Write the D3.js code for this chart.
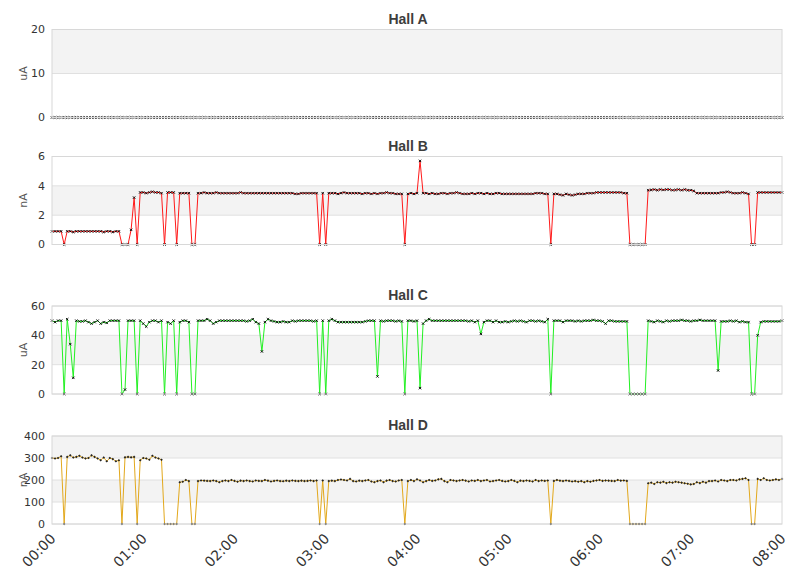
<!DOCTYPE html>
<html>
<head>
<meta charset="utf-8">
<script src="https://cdn.jsdelivr.net/npm/d3@7"></script>
<style>
body { margin: 0; background: #fff; }
text { font-family: "DejaVu Sans", Verdana, sans-serif; }
text.title { font-family: "Liberation Sans", Arial, sans-serif; }
</style>
</head>
<body>
<svg id="chart" width="811" height="578"></svg>
<script>
// one sample every 2 minutes, 00:00 .. 08:00
sample_step = 2;

hall_a = [
  0,0,0,0,0,0,0,0,0,0,0,0,0,0,0,0,0,0,0,0,
  0,0,0,0,0,0,0,0,0,0,0,0,0,0,0,0,0,0,0,0,
  0,0,0,0,0,0,0,0,0,0,0,0,0,0,0,0,0,0,0,0,
  0,0,0,0,0,0,0,0,0,0,0,0,0,0,0,0,0,0,0,0,
  0,0,0,0,0,0,0,0,0,0,0,0,0,0,0,0,0,0,0,0,
  0,0,0,0,0,0,0,0,0,0,0,0,0,0,0,0,0,0,0,0,
  0,0,0,0,0,0,0,0,0,0,0,0,0,0,0,0,0,0,0,0,
  0,0,0,0,0,0,0,0,0,0,0,0,0,0,0,0,0,0,0,0,
  0,0,0,0,0,0,0,0,0,0,0,0,0,0,0,0,0,0,0,0,
  0,0,0,0,0,0,0,0,0,0,0,0,0,0,0,0,0,0,0,0,
  0,0,0,0,0,0,0,0,0,0,0,0,0,0,0,0,0,0,0,0,
  0,0,0,0,0,0,0,0,0,0,0,0,0,0,0,0,0,0,0,0,
  0
];

hall_b = [
  0.9,0.9,0.9,0.9,
  0,
  0.9,0.9,0.85,0.9,0.9,0.9,0.9,0.9,0.9,0.9,0.9,0.9,0.85,0.9,0.9,0.85,0.9,0.9,
  0,0,0,
  1.0,3.2,
  0,
  3.55,3.55,3.5,3.55,3.6,3.55,3.55,3.5,
  0,
  3.55,3.55,3.55,
  0,
  3.5,3.5,3.5,3.5,
  0,0,
  3.5,3.5,3.55,3.5,3.5,3.5,3.55,3.5,3.5,3.5,
  3.5,3.5,3.5,3.5,3.55,3.5,3.5,3.5,3.5,3.5,
  3.5,3.5,3.5,3.5,3.5,3.5,3.5,3.5,3.5,3.5,
  3.5,3.5,3.45,3.45,3.5,3.5,3.5,3.5,3.5,3.5,
  0,3.5,0,
  3.5,3.5,3.5,3.45,3.5,3.55,3.5,3.5,3.5,3.5,
  3.5,3.45,3.5,3.5,3.45,3.5,3.45,3.5,3.5,3.55,
  3.5,3.5,3.45,3.45,3.45,
  0,
  3.45,3.5,3.45,3.5,
  5.7,
  3.5,3.5,3.45,3.5,3.45,3.45,3.5,3.5,3.45,3.5,
  3.5,3.55,3.5,3.45,3.45,3.45,3.5,3.45,3.5,3.5,
  3.45,3.5,3.45,3.45,3.5,3.5,3.45,3.45,3.45,3.45,
  3.45,3.45,3.45,3.45,3.45,3.45,3.45,3.5,3.5,3.5,
  3.45,3.45,
  0,
  3.45,3.45,3.4,3.35,3.45,3.4,3.35,3.4,3.45,3.45,
  3.45,3.5,3.5,3.5,3.55,3.55,3.55,3.55,3.55,3.55,
  3.55,3.55,3.55,3.5,3.5,
  0,0,0,0,0,0,
  3.7,3.72,3.75,3.7,3.75,3.72,3.75,3.75,3.7,3.72,
  3.75,3.7,3.75,3.7,3.7,3.65,
  3.5,3.5,3.5,3.5,
  3.5,3.5,3.5,3.5,3.55,3.55,3.6,3.55,3.5,3.5,
  3.5,3.55,3.5,3.45,
  0,0,
  3.55,3.55,3.55,3.55,3.55,3.55,3.55,3.55,3.55
];

hall_c = [
  50,49,50,50,
  0,
  51,34,11,50,
  49.5,49.5,50,49,48,49,50,48,49,48.5,50,50,50,50,
  0,3,50,50,50,
  0,
  50,48,46,49,50,50,49,50,
  0,
  49,48,50,
  0,
  49,50,50,49,
  0,0,
  50,50,50,51,50,48,49,50,50,50,
  50,50,50,50,50,50,49.5,50,51,49,
  48,
  29,
  49,51,50,49.5,49,49,49.5,49,49,50,
  49.5,50,50,50,50,50,49.5,50,
  0,50,0,
  50,51,50,49,49,49,49,49,49,49,
  49,49,49.5,50,50,50,
  12,
  50,49.5,50,50,50,49.5,50,49.5,
  0,
  50,50,49.5,50,
  4,
  48,50,51,50,50,50,50,50,50,50,
  50,50,50,50,50,49.5,50,49,50,
  41,
  49,50,50,49,50,49,49,49.5,49,49.5,
  50,49.5,50,49.5,49,50,50,49.5,50,49.5,
  49,51,
  0,
  50,50,50,49,50,50,50,49.5,50,49.5,
  50,50,50,50.5,50,50,49.5,48,50,50,
  49.5,49.5,49.5,49.5,49.5,
  0,0,0,0,0,0,
  50,49.5,49,50,49.5,49,50,49.5,50,50,
  50,50.5,50,50,49.5,50,50,50.5,50,50,
  50,50,50,
  16,
  49.5,49.5,49.5,50,49.5,50,49,49.5,49,49,
  0,0,
  40,
  49,49.5,49.5,49.5,49.5,49.5,49.5,50
];

hall_d = [
  300,298,300,308,
  0,
  305,312,302,305,310,302,298,300,312,305,
  298,290,302,285,300,295,285,290,
  0,
  303,305,303,305,
  0,
  290,300,298,292,310,302,298,292,
  0,0,0,0,0,
  190,192,200,195,
  0,0,
  195,198,197,196,195,198,195,190,195,198,
  195,200,196,192,197,195,198,195,193,198,
  196,195,200,197,193,196,198,195,194,197,
  195,198,196,195,197,195,196,198,195,198,
  0,198,0,
  195,197,195,200,202,200,198,205,195,193,
  197,195,198,200,193,190,195,198,190,197,
  200,195,193,198,200,
  0,
  195,200,195,203,198,190,195,200,196,198,
  203,205,195,190,200,198,195,198,200,197,
  193,198,196,200,195,198,200,193,195,198,
  200,196,193,195,200,196,190,197,195,198,
  196,193,200,195,198,196,198,
  0,
  196,200,197,195,198,196,193,195,192,195,
  190,195,192,196,198,200,196,198,197,196,
  195,200,197,198,196,
  0,0,0,0,0,0,
  185,188,182,190,188,192,186,190,188,192,
  190,188,185,183,180,182,190,186,192,188,
  195,195,198,193,200,198,195,200,200,198,
  203,205,208,200,
  0,0,
  205,200,208,200,198,200,203,200,205
];

titles = ['Hall A', 'Hall B', 'Hall C', 'Hall D'];
units = ['uA', 'nA', 'uA', 'nA'];
y_ticks = [[0, 10, 20], [0, 2, 4, 6], [0, 20, 40, 60], [0, 100, 200, 300, 400]];
x_ticks = [0, 60, 120, 180, 240, 300, 360, 420, 480];
x_labels = ['00:00', '01:00', '02:00', '03:00', '04:00', '05:00', '06:00', '07:00', '08:00'];

series = [hall_a, hall_b, hall_c, hall_d];
colors = ['#333333', '#ff1a1a', '#22f022', '#e2a81c'];

// layout
left = 52;
right = 782;
plot_tops = [29.5, 156.5, 306, 436];
plot_h = 88;

svg = d3.select('#chart');

x = d3.scaleLinear().domain([0, 480]).range([left, right]);

series.forEach(function(values, p){
    var pt = plot_tops[p];
    var ticks = y_ticks[p];
    var y = d3.scaleLinear().domain([0, ticks[ticks.length - 1]]).range([pt + plot_h, pt]);
    var g = svg.append('g');

    // alternating bands
    for(var k = 0; k < ticks.length - 1; k++){
        if(k % 2 === 1){
            g.append('rect')
                .attr('x', left)
                .attr('y', y(ticks[k + 1]))
                .attr('width', right - left)
                .attr('height', y(ticks[k]) - y(ticks[k + 1]))
                .attr('fill', '#f3f3f3');
        }
    }

    ticks.forEach(function(t){
        g.append('line')
            .attr('x1', left).attr('x2', right)
            .attr('y1', y(t)).attr('y2', y(t))
            .attr('stroke', '#e0e0e0');
        g.append('text')
            .attr('x', left - 7)
            .attr('y', y(t))
            .attr('dy', '0.35em')
            .attr('text-anchor', 'end')
            .attr('font-size', 11)
            .attr('fill', '#333')
            .text(t);
    });

    var line = d3.line()
        .x((d, i) => x(i * sample_step))
        .y(d => y(d));

    g.append('path')
        .datum(values)
        .attr('d', line)
        .attr('fill', 'none')
        .attr('stroke', colors[p])
        .attr('stroke-width', 1);

    if(p === 3){
        g.selectAll('path.pt')
            .data(values)
            .enter().append('path')
            .attr('class', 'pt')
            .attr('transform', (d, i) => `translate(${x(i * sample_step)},${y(d)})`)
            .attr('d', 'M0,-1.3L1.3,0L0,1.3L-1.3,0Z')
            .attr('fill', '#222');
    } else {
        g.selectAll('path.pt')
            .data(values)
            .enter().append('path')
            .attr('class', 'pt')
            .attr('transform', (d, i) => `translate(${x(i * sample_step)},${y(d)})`)
            .attr('d', 'M-1.2,-1.2L1.2,1.2M-1.2,1.2L1.2,-1.2')
            .attr('stroke', '#000')
            .attr('stroke-width', 0.9);
    }

    g.append('rect')
        .attr('x', left)
        .attr('y', pt)
        .attr('width', right - left)
        .attr('height', plot_h)
        .attr('fill', 'none')
        .attr('stroke', '#d8d8d8');

    svg.append('text')
        .attr('class', 'title')
        .attr('x', 408)
        .attr('y', pt - 6)
        .attr('text-anchor', 'middle')
        .attr('font-size', 14)
        .attr('font-weight', 'bold')
        .attr('fill', '#3d3d3d')
        .text(titles[p]);

    svg.append('text')
        .attr('transform', `translate(27,${pt + plot_h / 2}) rotate(-90)`)
        .attr('text-anchor', 'middle')
        .attr('font-size', 11)
        .attr('fill', '#555')
        .text(units[p]);
});

// time labels under the last panel
bottom = plot_tops[3] + plot_h;
x_ticks.forEach(function(t, i){
    svg.append('text')
        .attr('transform', `translate(${x(t) + 1},${bottom + 12}) rotate(-45)`)
        .attr('text-anchor', 'end')
        .attr('dy', '0.35em')
        .attr('font-size', 14)
        .attr('fill', '#333')
        .text(x_labels[i]);
});
</script>
</body>
</html>
